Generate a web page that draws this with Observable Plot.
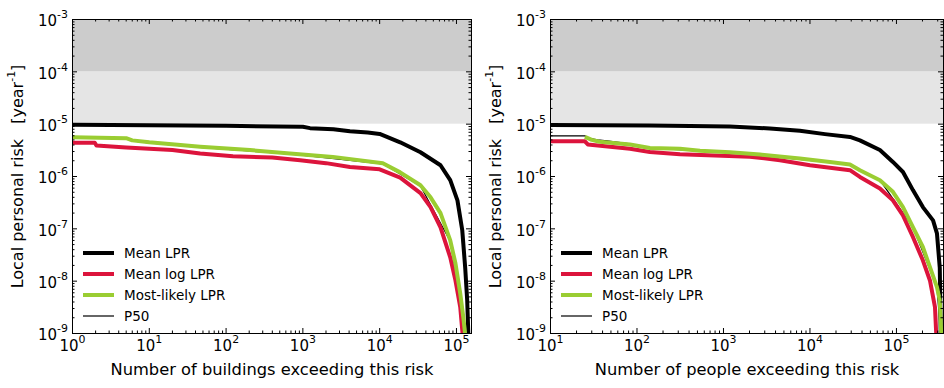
<!DOCTYPE html>
<html><head><meta charset="utf-8">
<script src="https://cdn.jsdelivr.net/npm/d3@7"></script>
<script src="https://cdn.jsdelivr.net/npm/@observablehq/plot@0.6"></script>
<style>
html,body{margin:0;padding:0;background:#fff;}
#wrap{display:flex;width:944px;height:388px;overflow:hidden;}
</style></head><body><div id="wrap"></div>
<script>
// ---- data ----
const seriesNames = ["Mean LPR", "Mean log LPR", "Most-likely LPR", "P50"];
const seriesColors = ["#000000", "#dc143c", "#9acd32", "#000000"];
const seriesWidths = [4, 4, 4, 1.2];
const bandLow = [1e-5, 1e-4];
const bandHigh = [1e-4, 1e-3];
const bandFill = ["#e5e5e5", "#cccccc"];
const yTickExps = [-9, -8, -7, -6, -5, -4, -3];
const xTickExpsBuildings = [0, 1, 2, 3, 4, 5];
const xTickExpsPeople = [1, 2, 3, 4, 5];
const buildingsDomain = [1, 1.57e5];
const peopleDomain = [10, 3.5e5];
const riskDomain = [1e-9, 1e-3];
const xLabelBuildings = "Number of buildings exceeding this risk";
const xLabelPeople = "Number of people exceeding this risk";
const yLabel = "Local personal risk \u00a0 [year^-1]";

// left panel: number of buildings vs risk
const buildingsMean = [[1, 9.7e-6], [10, 9.5e-6], [100, 9.3e-6], [1000, 8.9e-6], [1240, 8.4e-6], [2500, 8.0e-6], [4100, 7.3e-6], [7000, 6.9e-6], [10000, 6.5e-6], [18500, 4.5e-6], [34000, 2.9e-6], [62000, 1.64e-6], [83000, 8.5e-7], [103000, 3.5e-7], [119000, 9.4e-8], [130000, 1.8e-8], [138000, 4.3e-9], [145000, 5e-10]];
const buildingsMeanLog = [[1, 4.4e-6], [1.95, 4.4e-6], [2.05, 3.9e-6], [5, 3.6e-6], [10, 3.4e-6], [20, 3.2e-6], [46, 2.75e-6], [123, 2.45e-6], [400, 2.3e-6], [922, 2.04e-6], [2000, 1.8e-6], [4100, 1.52e-6], [10000, 1.37e-6], [18500, 9.5e-7], [34000, 4.8e-7], [46000, 2.6e-7], [62000, 1.07e-7], [83000, 2.85e-8], [97000, 1.04e-8], [112000, 3.2e-9], [125000, 5e-10]];
const buildingsMostLikely = [[1, 5.6e-6], [5, 5.4e-6], [6, 4.9e-6], [10, 4.5e-6], [46, 3.7e-6], [205, 3.2e-6], [680, 2.75e-6], [2460, 2.37e-6], [11000, 1.79e-6], [18500, 1.2e-6], [34000, 6.8e-7], [46000, 4.0e-7], [62000, 2.0e-7], [83000, 6.0e-8], [97000, 2.2e-8], [112000, 5.8e-9], [123000, 2e-9], [136000, 5e-10]];
const buildingsP50 = [[1, 5.5e-6], [5, 5.3e-6], [6, 4.8e-6], [10, 4.4e-6], [46, 3.6e-6], [680, 2.7e-6], [11000, 1.75e-6], [34000, 6.6e-7], [83000, 5.8e-8], [123000, 2e-9], [134000, 5e-10]];

// right panel: number of people vs risk
const peopleMean = [[10, 9.6e-6], [141, 9.4e-6], [1190, 9.0e-6], [3440, 8.3e-6], [7650, 7.45e-6], [14900, 6.45e-6], [29000, 5.7e-6], [37800, 4.9e-6], [64400, 3.2e-6], [91000, 1.9e-6], [119000, 1.22e-6], [155000, 5.5e-7], [202000, 2.6e-7], [265000, 1.45e-7], [294000, 8.2e-8], [317000, 1.8e-8], [327000, 5e-10]];
const peopleMeanLog = [[10, 4.7e-6], [25, 4.7e-6], [27, 4.1e-6], [83, 3.4e-6], [141, 2.95e-6], [314, 2.67e-6], [2020, 2.39e-6], [4500, 2.05e-6], [10000, 1.64e-6], [29000, 1.32e-6], [37800, 9.8e-7], [64400, 5.9e-7], [91000, 3.5e-7], [119000, 1.8e-7], [155000, 7e-8], [202000, 2.5e-8], [244000, 1.03e-8], [279000, 3.2e-9], [294000, 5e-10]];
const peopleMostLikely = [[25, 5.7e-6], [30, 5.0e-6], [37, 4.6e-6], [83, 4.1e-6], [141, 3.5e-6], [314, 3.4e-6], [535, 3.1e-6], [1190, 2.9e-6], [2640, 2.63e-6], [7650, 2.2e-6], [17000, 1.9e-6], [29000, 1.7e-6], [37800, 1.32e-6], [64400, 8.5e-7], [91000, 5.1e-7], [119000, 2.6e-7], [155000, 1.08e-7], [202000, 4.5e-8], [244000, 1.85e-8], [294000, 7.7e-9], [317000, 4.3e-9], [335000, 5e-10]];
const peopleP50 = [[10, 6.0e-6], [25, 6.0e-6], [27, 5.4e-6], [35, 5.0e-6], [45, 4.8e-6], [83, 4.2e-6], [141, 3.5e-6], [1190, 2.9e-6], [29000, 1.7e-6], [64400, 8.5e-7], [155000, 1.08e-7], [294000, 7.7e-9], [335000, 5e-10]];

// ---- drawing ----
function minorTicks([lo, hi]) {
  const out = [];
  for (let e = Math.floor(Math.log10(lo)); e <= Math.ceil(Math.log10(hi)); e++) {
    for (let m = 2; m <= 9; m++) {
      const v = m * 10 ** e;
      if (v > lo * 1.0001 && v < hi * 0.9999) out.push(v);
    }
  }
  return out;
}

function superscripts(svg) {
  d3.select(svg).selectAll("text").each(function () {
    const t = this.textContent;
    const m = /^(.*?)\^(-?\d+)(.*)$/.exec(t);
    if (!m) return;
    const fs = parseFloat(getComputedStyle(this).fontSize) || 15;
    const sel = d3.select(this);
    sel.text(null);
    sel.append("tspan").text(m[1]);
    sel.append("tspan").attr("dy", -0.53 * fs).attr("font-size", 0.73 * fs).text(m[2]);
    if (m[3]) sel.append("tspan").attr("dy", 0.53 * fs).text(m[3]);
  });
}

function panel({width, marginLeft, marginRight, xDomain, xExps, xLabel, series}) {
  const height = 388, marginTop = 19, marginBottom = 55;
  const H = height - marginTop - marginBottom;
  const W = width - marginLeft - marginRight;
  const majorX = xExps.map(e => 10 ** e);
  const majorY = yTickExps.map(e => 10 ** e);
  const minorX = minorTicks(xDomain);
  const minorY = minorTicks(riskDomain);
  const bands = bandLow.map((lo, i) => ({lo, hi: bandHigh[i], fill: bandFill[i]}));
  const drawOrder = [3, 0, 1, 2];
  const svg = Plot.plot({
    width, height, marginTop, marginBottom, marginLeft, marginRight,
    style: {fontFamily: "DejaVu Sans", fontSize: "15px", background: "#fff", color: "#000"},
    x: {type: "log", domain: xDomain, axis: null},
    y: {type: "log", domain: riskDomain, axis: null},
    color: {type: "identity"},
    marks: [
      Plot.rectY(bands, {y1: "lo", y2: "hi", fill: "fill"}),
      ...drawOrder.map(i => Plot.line(series[i], {
        x: d => d[0], y: d => d[1], stroke: seriesColors[i], strokeWidth: seriesWidths[i],
        clip: true, strokeLinejoin: "round", strokeLinecap: "butt"
      })),
      Plot.tickX(majorX, {x: d => d, insetTop: H - 5, stroke: "#000"}),
      Plot.tickX(majorX, {x: d => d, insetBottom: H - 5, stroke: "#000"}),
      Plot.tickX(minorX, {x: d => d, insetTop: H - 2.5, stroke: "#000"}),
      Plot.tickX(minorX, {x: d => d, insetBottom: H - 2.5, stroke: "#000"}),
      Plot.tickY(majorY, {y: d => d, insetRight: W - 5, stroke: "#000"}),
      Plot.tickY(majorY, {y: d => d, insetLeft: W - 5, stroke: "#000"}),
      Plot.tickY(minorY, {y: d => d, insetRight: W - 2.5, stroke: "#000"}),
      Plot.tickY(minorY, {y: d => d, insetLeft: W - 2.5, stroke: "#000"}),
      Plot.frame({stroke: "#000", strokeWidth: 1}),
      Plot.text(xExps, {x: e => 10 ** e, text: e => `10^${e}`, frameAnchor: "bottom", dy: 17, fontSize: 15, fill: "#000", textAnchor: "middle"}),
      Plot.text(yTickExps, {y: e => 10 ** e, text: e => `10^${e}`, frameAnchor: "left", dx: -4.5, dy: 2, textAnchor: "end", fontSize: 15, fill: "#000"}),
      Plot.text([xLabel], {text: d => d, frameAnchor: "bottom", dy: 41, fontSize: 16.3, fill: "#000", textAnchor: "middle"}),
      Plot.text([yLabel], {text: d => d, frameAnchor: "left", dx: -55, rotate: -90, fontSize: 16, fill: "#000", textAnchor: "middle"})
    ]
  });
  // legend
  const g = d3.select(svg).append("g").attr("font-family", "DejaVu Sans").attr("text-anchor", "start");
  seriesNames.forEach((name, k) => {
    const cy = marginTop + H - 80 + k * 21;
    g.append("line")
      .attr("x1", marginLeft + 11).attr("x2", marginLeft + 42)
      .attr("y1", cy).attr("y2", cy)
      .attr("stroke", seriesColors[k]).attr("stroke-width", seriesWidths[k]);
    g.append("text")
      .attr("x", marginLeft + 52).attr("y", cy).attr("dy", "0.36em")
      .attr("font-size", 13.5).attr("fill", "#000").attr("text-anchor", "start").text(name);
  });
  superscripts(svg);
  return svg;
}

const wrap = document.getElementById("wrap");
wrap.append(panel({
  width: 480, marginLeft: 72, marginRight: 9,
  xDomain: buildingsDomain, xExps: xTickExpsBuildings, xLabel: xLabelBuildings,
  series: [buildingsMean, buildingsMeanLog, buildingsMostLikely, buildingsP50]
}));
wrap.append(panel({
  width: 464, marginLeft: 70, marginRight: 1,
  xDomain: peopleDomain, xExps: xTickExpsPeople, xLabel: xLabelPeople,
  series: [peopleMean, peopleMeanLog, peopleMostLikely, peopleP50]
}));
</script></body></html>
